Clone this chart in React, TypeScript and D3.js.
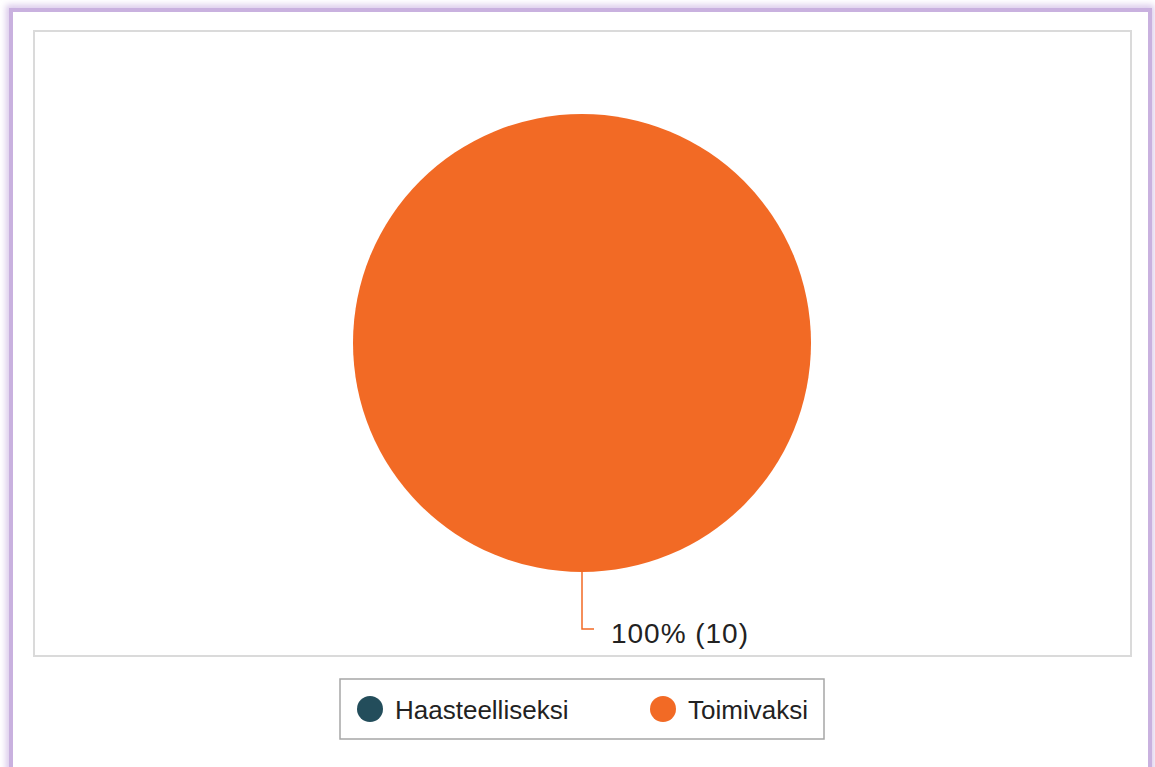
import React, { useEffect, useRef } from 'react';
import * as d3 from 'd3';

// chart data
const categories = ['Haasteelliseksi', 'Toimivaksi'];
const values = [0, 10];
const colors = ['#234d5b', '#f26a25'];

const W = 1155;
const H = 767;

const App = () => {
  const container = useRef(null);

  useEffect(() => {
    drawChart();
  }, []);

  const drawChart = () => {
    const svg = d3.select(container.current);
    svg.selectAll('*').remove();

    const defs = svg.append('defs');
    defs
      .append('filter')
      .attr('id', 'glow')
      .attr('x', '-5%')
      .attr('y', '-5%')
      .attr('width', '110%')
      .attr('height', '110%')
      .append('feGaussianBlur')
      .attr('stdDeviation', 3);

    svg.append('rect').attr('width', W).attr('height', H).attr('fill', '#fff');

    // outer purple frame with soft shadow
    svg
      .append('rect')
      .attr('x', 10)
      .attr('y', 9)
      .attr('width', 1140)
      .attr('height', 820)
      .attr('fill', 'none')
      .attr('stroke', '#d9c8ea')
      .attr('stroke-width', 8)
      .attr('filter', 'url(#glow)');
    svg
      .append('rect')
      .attr('x', 11)
      .attr('y', 10)
      .attr('width', 1139)
      .attr('height', 820)
      .attr('fill', '#fff')
      .attr('stroke', '#c9b1df')
      .attr('stroke-width', 4);

    // plot area box
    svg
      .append('rect')
      .attr('x', 34)
      .attr('y', 31)
      .attr('width', 1097)
      .attr('height', 625)
      .attr('fill', '#fff')
      .attr('stroke', '#dadada')
      .attr('stroke-width', 2);

    const cx = 582;
    const cy = 343;
    const radius = 229;

    const data = categories.map((c, i) => ({ name: c, value: values[i], color: colors[i] }));

    const pie = d3
      .pie<any>()
      .sort(null)
      .value(d => d.value);
    const arc = d3.arc<any>().innerRadius(0).outerRadius(radius);

    const g = svg.append('g').attr('transform', `translate(${cx}, ${cy})`);

    const arcs = pie(data).filter(d => d.data.value > 0);

    g.selectAll('.slice')
      .data(arcs)
      .join('path')
      .attr('class', 'slice')
      .attr('d', arc)
      .attr('fill', d => d.data.color);

    const total = d3.sum(values);

    arcs.forEach(d => {
      const mid = (d.startAngle + d.endAngle) / 2;
      const px = Math.sin(mid) * radius;
      const py = -Math.cos(mid) * radius;
      const ey = py + 57;
      g.append('path')
        .attr('d', `M${px},${py}V${ey}H${px + 12}`)
        .attr('fill', 'none')
        .attr('stroke', d.data.color)
        .attr('stroke-width', 1.5);
      g.append('text')
        .attr('x', px + 29)
        .attr('y', ey + 14)
        .attr('font-family', "'Liberation Sans', Arial, sans-serif")
        .attr('font-size', 28)
        .attr('fill', '#222')
        .attr('textLength', 137)
        .text(`${Math.round((d.data.value / total) * 100)}% (${d.data.value})`);
    });

    // legend
    const legend = svg.append('g');
    legend
      .append('rect')
      .attr('x', 340)
      .attr('y', 679)
      .attr('width', 484)
      .attr('height', 60)
      .attr('fill', '#fff')
      .attr('stroke', '#a6a6a6')
      .attr('stroke-width', 1.5);

    const legendX = d3.scalePoint().domain(categories).range([370, 663]);

    const item = legend
      .selectAll('.item')
      .data(data)
      .join('g')
      .attr('class', 'item')
      .attr('transform', d => `translate(${legendX(d.name)}, 709)`);
    item.append('circle').attr('r', 13).attr('fill', d => d.color);
    item
      .append('text')
      .attr('x', 25)
      .attr('y', 10)
      .attr('font-family', "'Liberation Sans', Arial, sans-serif")
      .attr('font-size', 26)
      .attr('fill', '#222')
      .text(d => d.name);
  };

  return (
    <svg
      ref={container}
      width={W}
      height={H}
      style={{ position: 'absolute', left: 0, top: 0, display: 'block' }}
    ></svg>
  );
};

export default App;
